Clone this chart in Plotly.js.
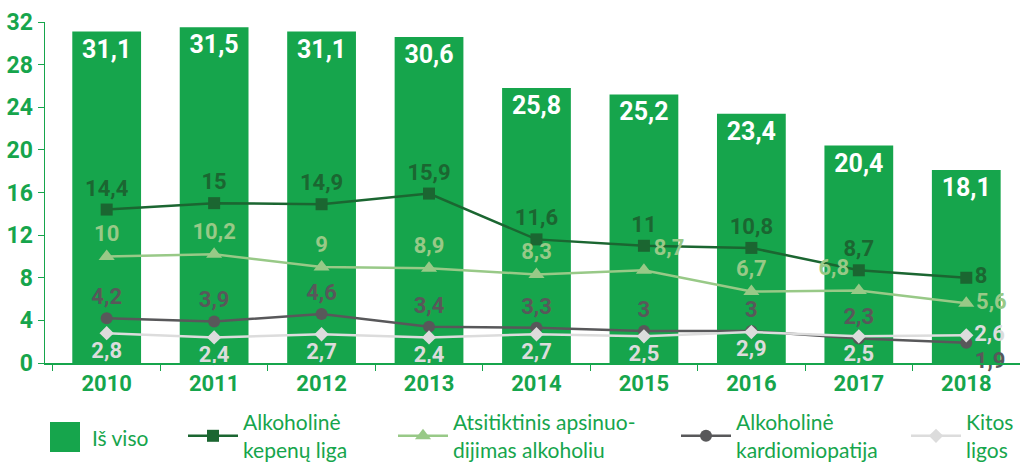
<!DOCTYPE html>
<html><head><meta charset="utf-8">
<script src="https://cdn.plot.ly/plotly-3.0.1.min.js"></script>
<style>html,body{margin:0;padding:0;background:#fff}#chart{width:1020px;height:462px}</style>
</head><body><div id="chart"></div>
<script>
const years = ['2010','2011','2012','2013','2014','2015','2016','2017','2018'];
const total = [31.1, 31.5, 31.1, 30.6, 25.8, 25.2, 23.4, 20.4, 18.1];
const liver = [14.4, 15, 14.9, 15.9, 11.6, 11, 10.8, 8.7, 8];
const poisoning = [10, 10.2, 9, 8.9, 8.3, 8.7, 6.7, 6.8, 5.6];
const cardio = [4.2, 3.9, 4.6, 3.4, 3.3, 3, 3, 2.3, 1.9];
const other = [2.8, 2.4, 2.7, 2.4, 2.7, 2.5, 2.9, 2.5, 2.6];
const yTicks = [0, 4, 8, 12, 16, 20, 24, 28, 32];

const names = {
  total: 'Iš viso',
  liver: 'Alkoholinė<br>kepenų liga',
  poisoning: 'Atsitiktinis apsinuo-<br>dijimas alkoholiu',
  cardio: 'Alkoholinė<br>kardiomiopatija',
  other: 'Kitos<br>ligos'
};

const fmt = v => String(v).replace('.', ',');
const numFont = 'Roboto, Liberation Sans Narrow, sans-serif';
const green = '#16a54c';

function pos(base, overrides) {
  return years.map((y, i) => overrides[i] || base);
}

const traces = [
  {
    type: 'bar', x: years, y: total, name: names.total, showlegend: false,
    marker: {color: green}, width: 0.64,
    text: total.map(fmt), textposition: 'inside', insidetextanchor: 'end',
    textangle: 0, constraintext: 'none',
    textfont: {family: numFont, size: 25, color: '#ffffff', weight: 'bold'},
    hoverinfo: 'skip'
  },
  {
    type: 'scatter', mode: 'lines+markers+text', x: years, y: liver, name: names.liver,
    legend: 'legend',
    line: {color: '#1b6631', width: 2.5},
    marker: {symbol: 'square', size: 12, color: '#1b6631'},
    text: liver.map(fmt), textposition: pos('top center', {8: 'middle right'}),
    textfont: {family: numFont, size: 22, color: '#1b6631', weight: 'bold'},
    cliponaxis: false
  },
  {
    type: 'scatter', mode: 'lines+markers+text', x: years, y: poisoning, name: names.poisoning,
    legend: 'legend2',
    line: {color: '#98c987', width: 2.5},
    marker: {symbol: 'triangle-up', size: 14, color: '#98c987'},
    text: poisoning.map(fmt), textposition: pos('top center', {5: 'top right', 7: 'top left', 8: 'middle right'}),
    textfont: {family: numFont, size: 22, color: '#98c987', weight: 'bold'},
    cliponaxis: false
  },
  {
    type: 'scatter', mode: 'lines+markers+text', x: years, y: cardio, name: names.cardio,
    legend: 'legend3',
    line: {color: '#58585a', width: 2.5},
    marker: {symbol: 'circle', size: 12, color: '#58585a'},
    text: cardio.map(fmt), textposition: pos('top center', {8: 'bottom right'}),
    textfont: {family: numFont, size: 22, color: '#58585a', weight: 'bold'},
    cliponaxis: false
  },
  {
    type: 'scatter', mode: 'lines+markers+text', x: years, y: other, name: names.other,
    legend: 'legend4',
    line: {color: '#dcdcdc', width: 2.5},
    marker: {symbol: 'diamond', size: 11, color: '#dcdcdc'},
    text: other.map(fmt), textposition: pos('bottom center', {8: 'middle right'}),
    textfont: {family: numFont, size: 22, color: '#dcdcdc', weight: 'bold'},
    cliponaxis: false
  }
];

const legFont = {family: 'Lato, Open Sans, sans-serif', size: 21, color: green};
function leg(xpx) {
  return {x: (xpx - 45) / 975, xanchor: 'left',
          y: (363 - 436) / 341, yanchor: 'middle',
          orientation: 'v', font: legFont, bgcolor: 'rgba(0,0,0,0)', borderwidth: 0,
          itemwidth: 50};
}

const layout = {
  width: 1020, height: 462,
  margin: {l: 45, r: 0, t: 22, b: 99, autoexpand: false},
  paper_bgcolor: '#fff', plot_bgcolor: '#fff',
  xaxis: {
    type: 'category', range: [-0.574, 8.5], automargin: false,
    showline: true, linecolor: green, linewidth: 1.5,
    ticks: 'outside', tickson: 'boundaries', ticklen: 6, tickcolor: green,
    tickfont: {family: numFont, size: 22, color: green, weight: 'bold'},
    showgrid: false, zeroline: false, fixedrange: true
  },
  yaxis: {
    range: [0, 32], tickvals: yTicks, ticktext: yTicks.map(String), automargin: false,
    showline: true, linecolor: green, linewidth: 1.5,
    ticks: 'outside', ticklen: 6, tickcolor: green,
    tickfont: {family: numFont, size: 23, color: green, weight: 'bold'},
    showgrid: false, zeroline: false, fixedrange: true
  },
  legend: leg(183),
  legend2: leg(393),
  legend3: leg(676),
  legend4: leg(906),
  shapes: [
    {type: 'rect', xref: 'paper', yref: 'paper',
     x0: (50 - 45) / 975, x1: (80 - 45) / 975, y0: (363 - 452) / 341, y1: (363 - 422) / 341,
     fillcolor: green, line: {width: 0}}
  ],
  annotations: [
    {xref: 'paper', yref: 'paper', x: (90 - 45) / 975, y: (363 - 437) / 341,
     xanchor: 'left', yanchor: 'middle', text: names.total, showarrow: false, font: legFont}
  ]
};

Plotly.newPlot('chart', traces, layout, {displayModeBar: false, staticPlot: true});
</script></body></html>
